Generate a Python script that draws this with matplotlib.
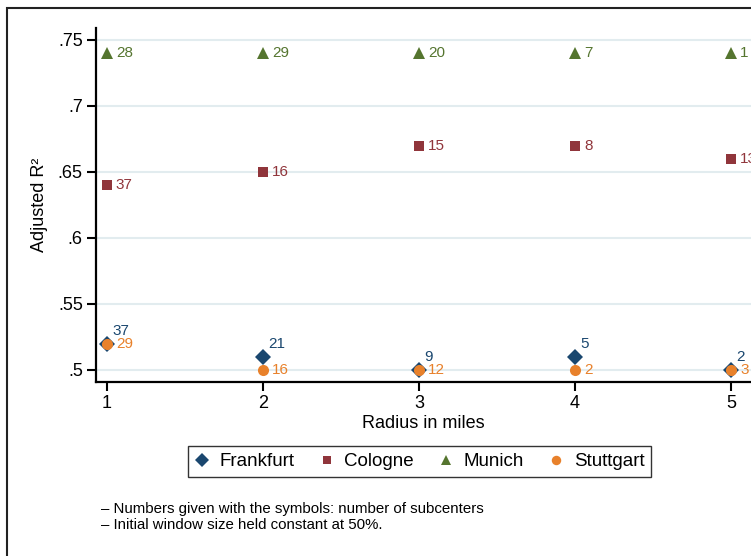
import matplotlib
matplotlib.use("Agg")
import matplotlib.pyplot as plt
from matplotlib.patches import Rectangle

plt.rcParams['font.family'] = ['Liberation Sans', 'DejaVu Sans']

radius = [1, 2, 3, 4, 5]
cities = ["Frankfurt", "Cologne", "Munich", "Stuttgart"]
frankfurt = [0.52, 0.51, 0.50, 0.51, 0.50]
cologne = [0.64, 0.65, 0.67, 0.67, 0.66]
munich = [0.74, 0.74, 0.74, 0.74, 0.74]
stuttgart = [0.52, 0.50, 0.50, 0.50, 0.50]
n_frankfurt = [37, 21, 9, 5, 2]
n_cologne = [37, 16, 15, 8, 13]
n_munich = [28, 29, 20, 7, 1]
n_stuttgart = [29, 16, 12, 2, 3]
yticks = [0.5, 0.55, 0.6, 0.65, 0.7, 0.75]
yticklabels = [".5", ".55", ".6", ".65", ".7", ".75"]

W, H = 751, 556
fig = plt.figure(figsize=(W / 100, H / 100), dpi=100)
fig.patch.set_facecolor("white")
# outer graph border (cut off at right and bottom)
fig.patches.append(Rectangle((7 / W, -0.1), 1.2, 1 - 8 / H + 0.1, transform=fig.transFigure,
                             fill=False, edgecolor="#222222", lw=1.5))

ax = fig.add_axes([96 / W, 1 - 382 / H, (751 - 96) / W, (382 - 28) / H])
ax.set_xlim(0.93, 5.128)
ax.set_ylim(0.4909, 0.759)

series = [
    (frankfurt, n_frankfurt, "D", "#1a476f", 8, (4, 9)),
    (cologne, n_cologne, "s", "#90353b", 7, (6.5, 0)),
    (munich, n_munich, "^", "#55752f", 8, (6.5, 0)),
    (stuttgart, n_stuttgart, "o", "#e8812b", 8, (6.5, 0)),
]

for y in yticks:
    ax.axhline(y, color="#e2ecef", lw=1.5, zorder=0)

for (vals, nums, mk, col, ms, off), name in zip(series, cities):
    ax.plot(radius, vals, linestyle="none", marker=mk, color=col, markersize=ms,
            markeredgewidth=0, label=name, clip_on=False, zorder=3)
    for x, y, n in zip(radius, vals, nums):
        ax.annotate(str(n), (x, y), xytext=off, textcoords="offset points",
                    ha="left", va="center", color=col, fontsize=11, annotation_clip=False)

ax.set_yticks(yticks)
ax.set_yticklabels(yticklabels)
ax.set_xticks(radius)
ax.tick_params(axis="both", labelsize=13, width=1.5, length=6.5, color="black")
ax.tick_params(axis="y", pad=3)
ax.tick_params(axis="x", pad=3)
for s in ["top", "right"]:
    ax.spines[s].set_visible(False)
for s in ["left", "bottom"]:
    ax.spines[s].set_linewidth(1.6)

ax.set_ylabel("Adjusted R²", fontsize=13, labelpad=7)
ax.set_xlabel("Radius in miles", fontsize=13, labelpad=2)

handles, labels = ax.get_legend_handles_labels()
leg = fig.legend(handles, labels, loc="center", bbox_to_anchor=(419.5 / W, 1 - 461.5 / H),
                 ncol=4, fontsize=13.5, frameon=True, fancybox=False, edgecolor="black",
                 handletextpad=0.55, columnspacing=1.3, handlelength=0.8, borderpad=0.35,
                 markerscale=0.85)
leg.get_frame().set_linewidth(1.0)

fig.text(101 / W, 1 - 509 / H, "– Numbers given with the symbols: number of subcenters",
         fontsize=10.8, va="center", ha="left")
fig.text(101 / W, 1 - 525 / H, "– Initial window size held constant at 50%.",
         fontsize=10.8, va="center", ha="left")

fig.savefig("out.png", dpi=100, facecolor="white")
